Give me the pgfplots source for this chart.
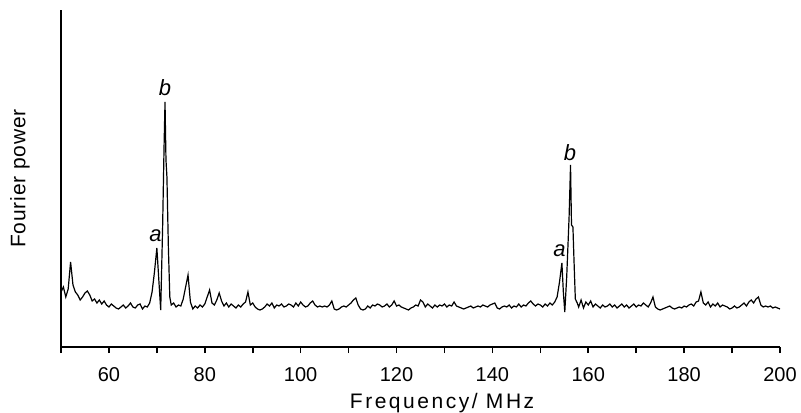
\documentclass[border=0pt]{standalone}
\usepackage{fontspec}
\setmainfont{Liberation Sans}
\usepackage{pgfplots}
\pgfplotsset{compat=1.18}

\pgfplotstableread{
f p
50.0 55
50.5 60
51.0 50
51.5 58
52.0 85
52.5 62
53.0 55
53.5 52
54.0 47
54.5 50
55.0 54
55.5 56
56.0 52
56.5 46
57.0 48
57.5 44
58.0 47
58.5 43
59.0 46
59.5 42
60.0 40
60.5 43
61.0 41
61.5 39
62.0 38
62.5 40
63.0 42
63.5 39
64.0 41
64.5 44
65.0 40
65.5 39
66.0 42
66.5 43
67.0 38
67.5 41
68.0 40
68.5 44
69.0 55
69.5 75
70.0 99
70.5 60
70.8 37
71.2 120
71.5 200
71.7 245
71.9 187
72.1 170
72.4 100
72.7 50
73.0 42
73.5 44
74.0 40
74.5 42
75.0 41
75.5 48
76.0 60
76.5 72
77.0 45
77.5 38
78.0 41
78.5 39
79.0 42
79.5 40
80.0 43
80.5 50
81.0 57
81.5 44
82.0 42
82.5 47
83.0 54
83.5 46
84.0 41
84.5 44
85.0 40
85.5 43
86.0 41
86.5 39
87.0 42
87.5 40
88.0 43
88.5 45
89.0 55
89.5 42
90.0 44
90.5 40
91.0 38
91.5 37
92.0 38
92.5 40
93.0 43
93.5 41
94.0 44
94.5 39
95.0 42
95.5 41
96.0 43
96.5 40
97.0 41
97.5 43
98.0 42
98.5 40
99.0 44
99.5 41
100.0 45
100.5 42
101.0 40
101.5 41
102.0 44
102.5 46
103.0 42
103.5 40
104.0 41
104.5 40
105.0 41
105.5 40
106.0 42
106.5 46
107.0 38
107.5 37
108.0 38
108.5 40
109.0 41
109.5 40
110.0 42
110.5 44
111.0 47
111.5 49
112.0 42
112.5 38
113.0 37
113.5 38
114.0 41
114.5 39
115.0 42
115.5 41
116.0 43
116.5 42
117.0 40
117.5 41
118.0 43
118.5 40
119.0 42
119.5 46
120.0 41
120.5 42
121.0 40
121.5 39
122.0 38
122.5 37
123.0 39
123.5 40
124.0 42
124.5 41
125.0 47
125.5 45
126.0 40
126.5 43
127.0 41
127.5 39
128.0 42
128.5 40
129.0 42
129.5 41
130.0 43
130.5 40
131.0 42
131.5 41
132.0 45
132.5 41
133.0 40
133.5 39
134.0 38
134.5 39
135.0 40
135.5 41
136.0 39
136.5 40
137.0 41
137.5 40
138.0 42
138.5 41
139.0 40
139.5 42
140.0 43
140.5 44
141.0 39
141.5 38
142.0 40
142.5 41
143.0 40
143.5 42
144.0 39
144.5 41
145.0 40
145.5 43
146.0 40
146.5 42
147.0 41
147.5 44
148.0 46
148.5 43
149.0 41
149.5 43
150.0 42
150.5 40
151.0 43
151.5 41
152.0 44
152.5 42
153.0 45
153.5 50
154.0 65
154.5 84
154.8 55
155.1 35
155.5 70
156.0 130
156.3 182
156.5 122
156.8 120
157.0 90
157.3 48
157.7 44
158.0 40
158.5 47
159.0 39
159.5 45
160.0 42
160.5 46
161.0 40
161.5 43
162.0 41
162.5 39
163.0 42
163.5 40
164.0 41
164.5 43
165.0 40
165.5 42
166.0 39
166.5 41
167.0 43
167.5 40
168.0 42
168.5 39
169.0 41
169.5 43
170.0 40
170.5 42
171.0 41
171.5 44
172.0 42
172.5 40
173.0 44
173.5 50
174.0 40
174.5 38
175.0 37
175.5 38
176.0 39
176.5 40
177.0 41
177.5 39
178.0 38
178.5 39
179.0 40
179.5 39
180.0 41
180.5 40
181.0 42
181.5 43
182.0 41
182.5 45
183.0 46
183.5 55
184.0 44
184.5 42
185.0 45
185.5 40
186.0 43
186.5 41
187.0 44
187.5 40
188.0 42
188.5 41
189.0 40
189.5 38
190.0 39
190.5 41
191.0 39
191.5 40
192.0 42
192.5 44
193.0 41
193.5 45
194.0 47
194.5 44
195.0 48
195.5 50
196.0 42
196.5 40
197.0 41
197.5 40
198.0 41
198.5 39
199.0 40
199.5 39
200.0 38
}\spectrum

\begin{document}
\begin{tikzpicture}
\useasboundingbox (-30.5pt,-32.5pt) rectangle (370pt,173.5pt);
\begin{axis}[
  at={(0,0)}, anchor=south west,
  scale only axis,
  width=359.5pt, height=168.5pt,
  xmin=50, xmax=200, ymin=0, ymax=337,
  axis x line*=bottom, axis y line*=left,
  axis line style={line width=1pt},
  xtick={60,80,...,200},
  minor xtick={50,70,...,190},
  ytick=\empty,
  tick align=outside,
  major tick length=3pt, minor tick length=3pt,
  every tick/.style={black, line width=0.8pt},
  tick label style={font=\fontsize{10}{12}\selectfont},
  xticklabel style={yshift=-3.5pt},
  /pgf/number format/assume math mode=true,
  xlabel={\addfontfeature{LetterSpace=12}Frequency/ MHz},
  ylabel={\addfontfeature{LetterSpace=4}Fourier power},
  label style={font=\fontsize{10.5}{12}\selectfont},
  xlabel style={at={(axis description cs:0.53,-0.165)}, anchor=center},
  ylabel style={at={(axis description cs:-0.057,0.5)}, anchor=center},
  clip=false,
]
\addplot[black, line width=0.6pt] table[x=f, y=p] {\spectrum};
\node[font=\itshape\fontsize{11}{12}\selectfont] at (axis cs:71.7,259) {b};
\node[font=\itshape\fontsize{11}{12}\selectfont] at (axis cs:69.7,111) {a};
\node[font=\itshape\fontsize{11}{12}\selectfont] at (axis cs:156.2,194) {b};
\node[font=\itshape\fontsize{11}{12}\selectfont] at (axis cs:154.0,96) {a};
\end{axis}
\end{tikzpicture}
\end{document}
